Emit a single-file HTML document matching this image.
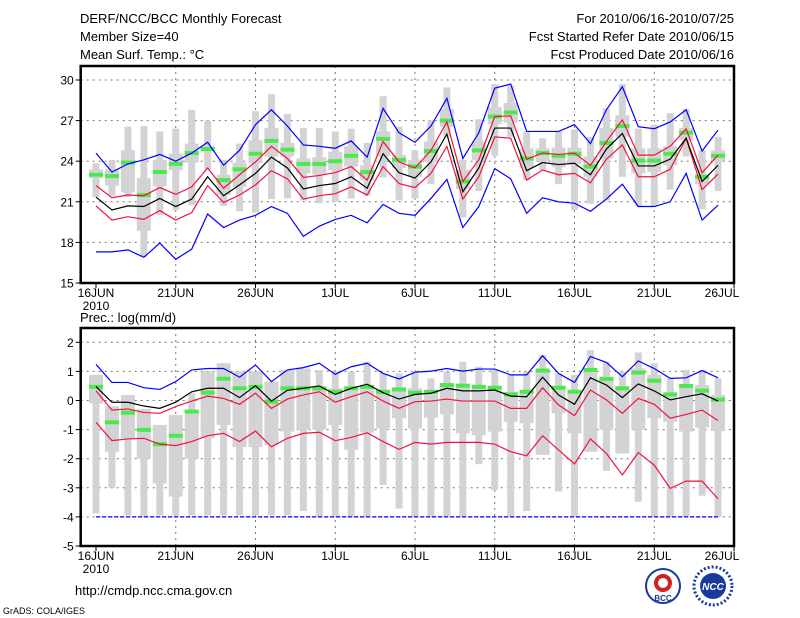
<!DOCTYPE html>
<html><head><meta charset="utf-8"><style>
html,body{margin:0;padding:0;background:#fff;}
svg{display:block;font-family:"Liberation Sans",sans-serif;}
</style></head><body>
<svg id="chart" width="800" height="618" viewBox="0 0 800 618">
<g font-size="13" fill="#000">
<text x="80" y="23">DERF/NCC/BCC Monthly Forecast</text>
<text x="80" y="41">Member Size=40</text>
<text x="80" y="59">Mean Surf. Temp.: °C</text>
</g>
<g font-size="13" fill="#000" text-anchor="end">
<text x="734" y="23">For 2010/06/16-2010/07/25</text>
<text x="734" y="41">Fcst Started Refer Date 2010/06/15</text>
<text x="734" y="59">Fcst Produced Date 2010/06/16</text>
</g>
<text x="80" y="322" font-size="13">Prec.: log(mm/d)</text>
<text x="75" y="595" font-size="13">http://cmdp.ncc.cma.gov.cn</text>
<text x="3" y="614" font-size="9">GrADS: COLA/IGES</text>
<g>
<circle cx="663" cy="586" r="17" fill="#fff" stroke="#1a3a9a" stroke-width="2"/>
<circle cx="663" cy="583" r="9" fill="#d02020"/>
<circle cx="663" cy="583" r="5" fill="#fff"/>
<text x="663" y="601" font-size="8" font-weight="bold" text-anchor="middle" fill="#1a3a9a">BCC</text>
</g>
<g>
<circle cx="713" cy="586" r="19" fill="#fff" stroke="#1a3a9a" stroke-width="3" stroke-dasharray="2 2"/>
<circle cx="713" cy="586" r="13" fill="#1a3a9a"/>
<text x="713" y="590" font-size="10" font-style="italic" font-weight="bold" text-anchor="middle" fill="#fff">NCC</text>
</g>
<g id="top"></g>
<g id="bot"></g>
</svg>
<script>
const days = ["16JUN","21JUN","26JUN","1JUL","6JUL","11JUL","16JUL","21JUL","26JUL"];
const tempTicks = [15,18,21,24,27,30];
const precTicks = [-5,-4,-3,-2,-1,0,1,2];
const tMax = [24.6,23.2,23.8,24.1,24.5,24.0,24.6,25.4,23.7,24.8,26.7,27.8,26.6,25.2,25.1,24.95,25.5,24.3,27.9,26.1,25.4,26.6,28.65,24.2,26.1,29.4,29.7,26.2,26.2,26.2,26.7,25.3,27.8,29.5,26.55,26.4,26.9,27.8,24.75,26.3];
const tMin = [17.3,17.3,17.45,16.9,17.95,16.75,17.5,20.1,19.1,19.65,20.0,20.65,20.15,18.45,19.2,19.7,20.0,19.45,20.8,20.15,20.0,21.25,22.65,19.1,20.65,23.45,22.7,20.15,21.3,21.0,20.9,20.3,21.2,22.3,20.65,20.65,21.0,23.1,19.65,20.75];
const tUp = [22.2,21.3,21.5,21.45,22.05,21.55,22.1,23.5,22.0,23.0,23.95,25.1,24.2,22.8,22.95,23.15,23.6,22.6,25.45,23.95,23.5,24.8,26.9,22.5,24.1,27.3,27.35,24.15,24.6,24.5,24.6,23.7,25.45,27.05,24.45,24.45,25.1,26.4,23.15,24.45];
const tLo = [20.7,19.65,19.9,19.7,20.35,19.65,20.2,22.2,20.95,21.5,22.25,23.3,22.7,21.2,21.45,21.6,22.1,21.5,23.6,22.35,22.05,23.1,25.1,21.2,22.85,25.8,25.7,22.6,23.35,23.0,23.1,22.4,24.15,25.2,22.85,22.85,23.4,25.7,21.9,23.05];
const tMean = [21.35,20.4,20.7,20.65,21.25,20.65,21.2,22.85,21.45,22.25,23.1,24.3,23.5,21.95,22.2,22.35,22.85,22.0,24.55,23.15,22.75,23.95,26.0,21.75,23.5,26.45,26.45,23.3,23.9,23.75,23.85,23.0,24.9,26.05,23.65,23.65,24.15,25.7,22.5,23.7];
const tGreen = [23.0,22.9,23.9,21.5,23.2,23.8,24.6,24.9,22.6,23.4,24.55,25.5,24.85,23.8,23.8,24.0,24.4,23.2,25.65,24.1,23.6,24.75,27.0,22.5,24.8,27.3,27.6,24.2,24.6,24.4,24.55,23.6,25.35,26.6,24.05,24.05,24.55,26.1,22.85,24.4];
const tBarMax = [23.85,24.1,26.55,26.6,26.2,26.4,27.8,27.0,24.1,25.3,27.7,28.95,27.5,26.45,26.45,26.2,26.4,25.35,28.8,26.55,24.8,27.0,29.45,24.1,27.1,29.7,29.6,26.2,25.7,26.2,26.35,25.8,27.9,29.7,26.4,26.7,27.55,27.85,24.8,25.8];
const tBarQ3 = [23.4,23.4,24.8,22.75,24.1,24.55,25.3,25.1,23.0,23.9,25.55,26.45,25.35,24.2,24.3,24.7,25.1,23.7,26.2,24.45,24.1,25.45,27.85,23.35,25.45,28.0,28.3,24.95,24.95,25.0,25.0,24.35,26.45,27.4,24.95,24.95,25.1,26.45,23.0,24.8];
const tBarQ1 = [22.75,22.2,21.7,18.85,22.15,23.35,23.9,24.8,21.5,22.1,23.85,24.35,24.35,23.1,23.0,23.35,23.6,22.6,24.35,23.5,22.85,23.95,26.55,21.95,24.1,26.75,26.85,23.5,24.0,23.55,23.8,22.85,24.2,25.8,23.1,23.2,23.7,25.55,22.3,24.05];
const tBarMin = [21.35,21.45,21.35,16.95,20.0,20.4,20.75,23.4,20.7,20.3,20.2,21.2,21.25,21.1,20.9,21.0,21.25,21.45,22.8,21.1,21.25,22.3,25.8,19.85,21.8,24.4,25.8,22.6,23.35,22.3,20.4,20.85,21.1,22.85,20.65,20.65,21.9,24.35,20.45,21.8];
const pMax = [1.24,0.62,0.62,0.44,0.38,0.65,1.05,1.1,1.1,0.8,1.22,0.65,1.05,1.13,1.28,0.9,1.16,1.28,0.93,0.74,0.97,1.01,1.1,1.01,1.08,1.08,0.88,0.88,1.54,0.93,0.62,1.51,1.31,0.82,1.36,1.1,0.76,0.78,1.03,0.78];
const pMin = [-4,-4,-4,-4,-4,-4,-4,-4,-4,-4,-4,-4,-4,-4,-4,-4,-4,-4,-4,-4,-4,-4,-4,-4,-4,-4,-4,-4,-4,-4,-4,-4,-4,-4,-4,-4,-4,-4,-4,-4];
const pUp = [0.33,-0.33,-0.29,-0.41,-0.44,-0.21,-0.02,0.15,0.07,-0.13,0.25,-0.27,0.05,0.19,0.3,-0.06,0.13,0.3,-0.02,-0.27,-0.04,-0.02,0.05,-0.02,-0.02,-0.02,-0.27,-0.27,0.44,-0.15,-0.52,0.36,0.02,-0.44,0.07,-0.13,-0.61,-0.48,-0.33,-0.69];
const pLo = [-0.75,-1.38,-1.32,-1.3,-1.5,-1.55,-1.41,-1.21,-1.13,-1.41,-1.05,-1.59,-1.3,-1.13,-1.09,-1.38,-1.27,-1.11,-1.41,-1.68,-1.44,-1.5,-1.44,-1.44,-1.44,-1.5,-1.76,-1.9,-1.21,-1.7,-2.18,-1.32,-1.82,-2.56,-1.79,-2.22,-3.02,-2.77,-2.77,-3.38];
const pMean = [0.48,-0.06,-0.06,-0.19,-0.27,-0.06,0.3,0.42,0.42,0.1,0.51,-0.02,0.35,0.42,0.5,0.21,0.42,0.56,0.27,0.05,0.21,0.25,0.42,0.33,0.33,0.36,0.15,0.13,0.8,0.19,-0.13,0.78,0.53,0.1,0.57,0.33,0.02,0.13,0.23,-0.02];
const pGreen = [0.47,-0.75,-0.42,-1.01,-1.5,-1.21,-0.38,0.27,0.75,0.42,0.47,-0.04,0.42,0.42,0.42,0.3,0.42,0.47,0.3,0.38,0.27,0.3,0.53,0.51,0.47,0.44,0.21,0.3,1.03,0.44,0.3,1.05,0.74,0.42,0.96,0.68,0.21,0.5,0.34,0.03];
const pBarMax = [0.88,-0.2,0.19,-0.3,-0.84,-0.5,0.25,1.0,1.28,1.0,1.0,0.65,1.05,1.1,1.05,1.0,0.99,1.33,0.93,0.93,0.93,0.76,0.99,1.33,1.16,1.05,0.88,0.99,1.56,0.93,0.88,1.73,1.33,0.99,1.65,1.28,0.76,1.05,1.05,0.76];
const pBarQ3 = [0.88,-0.2,0.19,-0.3,-0.84,-0.5,-0.33,1.0,1.28,1.0,1.0,0.65,1.05,1.1,0.48,0.42,0.48,0.53,0.36,0.42,0.42,0.36,0.48,0.48,0.48,0.48,0.3,0.36,1.05,0.48,0.3,1.1,0.82,0.42,1.1,0.88,0.19,0.53,0.53,0.19];
const pBarQ1 = [-0.1,-1.76,-1.3,-2.0,-2.85,-3.3,-2.0,-1.3,-0.84,-1.6,-1.6,-1.53,-1.07,-1.0,-1.0,-0.84,-1.7,-1.1,-0.96,-0.61,-0.96,-0.59,-0.48,-1.13,-1.19,-1.07,-0.73,-0.78,-1.87,-0.44,-1.13,-1.76,-1.0,-1.82,-1.0,-0.61,-0.73,-1.07,-0.93,-1.05];
const pBarMin = [-3.88,-3.0,-3.95,-4.0,-3.95,-3.95,-3.95,-3.95,-3.95,-3.95,-3.95,-3.95,-3.95,-3.8,-4.0,-4.0,-4.0,-4.0,-2.9,-3.71,-4.0,-4.0,-4.0,-4.0,-2.19,-3.08,-4.0,-3.8,-1.87,-3.13,-4.0,-1.76,-2.42,-1.82,-3.48,-4.0,-4.0,-4.0,-3.27,-4.0];

const NS='http://www.w3.org/2000/svg';
function mk(parent,tag,attrs){const e=document.createElementNS(NS,tag);for(const k in attrs)e.setAttribute(k,attrs[k]);parent.appendChild(e);return e;}
const X0=96, DX=15.95;
function xs(d){return X0+d*DX;}

// pixMin = pixel y for vmin, pixMax = pixel y for vmax
function drawPanel(gid,frameTop,frameBot,vmin,vmax,pixMin,pixMax,ticks,S){
  const g=document.getElementById(gid);
  const L=80.7,R=734;
  const ys=v=>pixMin-(v-vmin)*(pixMin-pixMax)/(vmax-vmin);
  ticks.forEach(t=>{
    const y=ys(t);
    if(t!==vmin){
      const gl=mk(g,'line',{x1:L,x2:R,y1:y,y2:y,stroke:'#777','stroke-width':1,'stroke-dasharray':'2 4'});
      
      
    }
    const tk=mk(g,'line',{x1:L-5,x2:L,y1:y,y2:y,stroke:'#000','stroke-width':1});
    
    
    const tx=mk(g,'text',{x:L-7,y:y+4.5,'font-size':12,'text-anchor':'end'});
    tx.textContent=t;
    
    
  });
  days.forEach((lab,i)=>{
    const x=xs(i*5);
    if(i>0 && x<R-2){
      const gl=mk(g,'line',{x1:x,x2:x,y1:frameTop,y2:frameBot,stroke:'#777','stroke-width':1,'stroke-dasharray':'2 4'});
      
      
    }
    const tk=mk(g,'line',{x1:x,x2:x,y1:frameBot,y2:frameBot+5,stroke:'#000','stroke-width':1});
    
    
    const tx=mk(g,'text',{x:Math.min(x,722),y:frameBot+14,'font-size':12,'text-anchor':'middle'});
    tx.textContent=lab;
    
    
  });
  const yr=mk(g,'text',{x:xs(0),y:frameBot+27,'font-size':12,'text-anchor':'middle'});
  yr.textContent='2010';
  
  
  S.bmax.forEach((v,d)=>{
    const x=xs(d);
    const thin=mk(g,'rect',{x:x-3.5,y:ys(S.bmax[d]),width:7,height:Math.max(0,ys(S.bmin[d])-ys(S.bmax[d])),fill:'#d3d3d6'});
    
    
    const thick=mk(g,'rect',{x:x-7,y:ys(S.q3[d]),width:14,height:Math.max(0,ys(S.q1[d])-ys(S.q3[d])),fill:'#d3d3d6'});
    
    
  });
  S.green.forEach((v,d)=>{
    const r=mk(g,'rect',{x:xs(d)-7,y:ys(v)-2,width:14,height:4,fill:'#4de84d'});
    
    
  });
  function line(arr,color,name,dash){
    const p=mk(g,'polyline',{points:arr.map((v,d)=>xs(d)+','+ys(v)).join(' '),fill:'none',stroke:color,'stroke-width':1.2});
    if(dash)p.setAttribute('stroke-dasharray',dash);
    
    
  }
  line(S.max,'#0000ff','max-line');
  line(S.min,'#0000ff','min-line',S.dashMin);
  line(S.up,'#f0143c','upper-line');
  line(S.lo,'#f0143c','lower-line');
  line(S.mean,'#000','mean-line');
  const fr=mk(g,'rect',{x:L,y:frameTop,width:R-L,height:frameBot-frameTop,fill:'none',stroke:'#000','stroke-width':2.5});
  
  
}
drawPanel('top',66,283,15,30,283,80,tempTicks,{max:tMax,min:tMin,up:tUp,lo:tLo,mean:tMean,green:tGreen,bmax:tBarMax,q3:tBarQ3,q1:tBarQ1,bmin:tBarMin});
drawPanel('bot',328,546,-5,2,546,342.3,precTicks,{max:pMax,min:pMin,up:pUp,lo:pLo,mean:pMean,green:pGreen,bmax:pBarMax,q3:pBarQ3,q1:pBarQ1,bmin:pBarMin,dashMin:'4 2'});
</script>
</body></html>
